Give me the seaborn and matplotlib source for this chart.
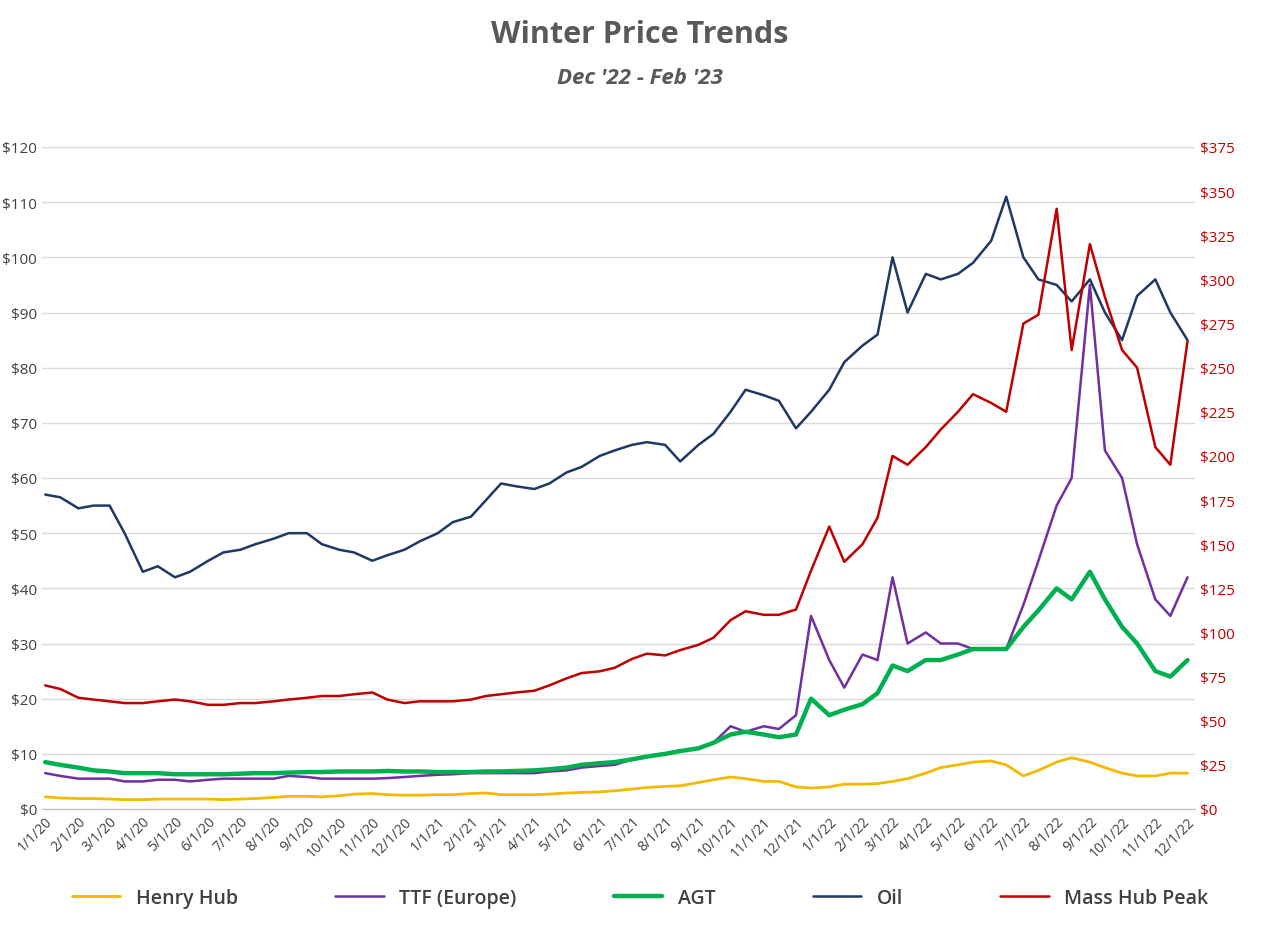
import pandas as pd
import numpy as np
import matplotlib
matplotlib.use("Agg")
import matplotlib.pyplot as plt
import seaborn as sns

# semimonthly readings (1st and 15th), 1/1/20 .. 12/1/22
dates = []
for y in [2020, 2021, 2022]:
    for m in range(1, 13):
        dates.append(pd.Timestamp(y, m, 1))
        dates.append(pd.Timestamp(y, m, 15))
dates = [d for d in dates if d <= pd.Timestamp(2022, 12, 1)]

oil = [57, 56.5, 54.5, 55, 55, 50, 43, 44, 42, 43, 45, 46.5, 47, 48, 49, 50, 50, 48, 47, 46.5, 45, 46, 47, 48.5,
       50, 52, 53, 56, 59, 58.5, 58, 59, 61, 62, 64, 65, 66, 66.5, 66, 63, 66, 68, 72, 76, 75, 74, 69, 72,
       76, 81, 84, 86, 100, 90, 97, 96, 97, 99, 103, 111, 100, 96, 95, 92, 96, 90, 85, 93, 96, 90, 85]
mass_hub = [70, 68, 63, 62, 61, 60, 60, 61, 62, 61, 59, 59, 60, 60, 61, 62, 63, 64, 64, 65, 66, 62, 60, 61,
            61, 61, 62, 64, 65, 66, 67, 70, 74, 77, 78, 80, 85, 88, 87, 90, 93, 97, 107, 112, 110, 110, 113, 135,
            160, 140, 150, 165, 200, 195, 205, 215, 225, 235, 230, 225, 275, 280, 340, 260, 320, 290, 260, 250, 205, 195, 265]
ttf = [6.5, 6, 5.5, 5.5, 5.5, 5, 5, 5.3, 5.3, 5, 5.3, 5.5, 5.5, 5.5, 5.5, 6, 5.8, 5.5, 5.5, 5.5, 5.5, 5.6, 5.8, 6,
       6.2, 6.3, 6.5, 6.5, 6.5, 6.5, 6.5, 6.8, 7, 7.5, 7.8, 8, 9, 9.5, 10, 10.5, 11, 12, 15, 14, 15, 14.5, 17, 35,
       27, 22, 28, 27, 42, 30, 32, 30, 30, 29, 29, 29, 37, 45, 55, 60, 95, 65, 60, 48, 38, 35, 42]
agt = [8.5, 8, 7.5, 7, 6.8, 6.5, 6.5, 6.5, 6.3, 6.3, 6.3, 6.3, 6.4, 6.5, 6.5, 6.6, 6.7, 6.7, 6.8, 6.8, 6.8, 6.9, 6.8, 6.8,
       6.7, 6.7, 6.7, 6.8, 6.8, 6.9, 7, 7.2, 7.5, 8, 8.3, 8.5, 9, 9.5, 10, 10.5, 11, 12, 13.5, 14, 13.5, 13, 13.5, 20,
       17, 18, 19, 21, 26, 25, 27, 27, 28, 29, 29, 29, 33, 36, 40, 38, 43, 38, 33, 30, 25, 24, 27]
henry_hub = [2.2, 2, 1.9, 1.9, 1.8, 1.7, 1.7, 1.8, 1.8, 1.8, 1.8, 1.7, 1.8, 1.9, 2.1, 2.3, 2.3, 2.2, 2.4, 2.7, 2.8, 2.6, 2.5, 2.5,
             2.6, 2.6, 2.8, 2.9, 2.6, 2.6, 2.6, 2.7, 2.9, 3, 3.1, 3.3, 3.6, 3.9, 4.1, 4.2, 4.8, 5.3, 5.8, 5.5, 5, 5, 4, 3.8,
             4, 4.5, 4.5, 4.6, 5, 5.5, 6.5, 7.5, 8, 8.5, 8.7, 8, 6, 7, 8.5, 9.3, 8.5, 7.5, 6.5, 6, 6, 6.5, 6.5]

df = pd.DataFrame({"Date": dates, "Henry Hub": henry_hub, "TTF (Europe)": ttf, "AGT": agt,
                   "Oil": oil, "Mass Hub Peak": mass_hub})

sns.set_style("white")
plt.rcParams['font.family'] = ['Open Sans', 'DejaVu Sans']

fig = plt.figure(figsize=(12.8, 9.29), dpi=100)
ax = fig.add_axes([42/1280, 1-810/929, 1153/1280, 662/929])
ax2 = ax.twinx()

colors = {"Henry Hub": "#F5B800", "TTF (Europe)": "#7030A0", "AGT": "#00B050",
          "Oil": "#1F3864", "Mass Hub Peak": "#C00000"}
widths = {"Henry Hub": 2, "TTF (Europe)": 1.8, "AGT": 3.2, "Oil": 1.8, "Mass Hub Peak": 1.8}

for name in ["Henry Hub", "TTF (Europe)", "AGT", "Oil"]:
    sns.lineplot(data=df, x="Date", y=name, ax=ax, color=colors[name], lw=widths[name], label=name, legend=False)
sns.lineplot(data=df, x="Date", y="Mass Hub Peak", ax=ax2, color=colors["Mass Hub Peak"],
             lw=widths["Mass Hub Peak"], label="Mass Hub Peak", legend=False)

ax.set_ylim(0, 120)
ax2.set_ylim(0, 375)
ax.set_yticks(range(0, 121, 10))
ax2.set_yticks(range(0, 376, 25))
ax.set_yticklabels([f"${v}" for v in range(0, 121, 10)], color="#404040", fontsize=11)
ax2.set_yticklabels([f"${v}" for v in range(0, 376, 25)], color="#C00000", fontsize=11)
ax.yaxis.grid(True, color="#D9D9D9", lw=1)
ax.set_xlim(pd.Timestamp(2019, 12, 29), pd.Timestamp(2022, 12, 8))
ticks = pd.date_range("2020-01-01", "2022-12-01", freq="MS")
ax.set_xticks(ticks)
ax.set_xticklabels([f"{d.month}/1/{d.year % 100}" for d in ticks], rotation=45, ha="right",
                   rotation_mode="anchor", fontsize=10, color="#404040")
ax.set_xlabel("")
ax.set_ylabel("")
ax2.set_ylabel("")
for a in (ax, ax2):
    for s in a.spines.values():
        s.set_visible(False)
    a.tick_params(length=0)
ax.spines["bottom"].set_visible(True)
ax.spines["bottom"].set_color("#BFBFBF")

fig.text(0.5, 0.962, "Winter Price Trends", ha="center", va="center", fontsize=22, fontweight="bold", color="#595959")
fig.text(0.5, 0.915, "Dec '22 - Feb '23", ha="center", va="center", fontsize=16, style="italic",
         fontweight="bold", color="#595959")

h1, l1 = ax.get_legend_handles_labels()
h2, l2 = ax2.get_legend_handles_labels()
fig.legend(h1 + h2, l1 + l2, loc="center", bbox_to_anchor=(0.5, 0.032), ncol=5, frameon=False,
           prop={"size": 14, "weight": "semibold"}, columnspacing=5, handlelength=2.5, labelcolor="#404040")

fig.savefig("out.png", dpi=100)
